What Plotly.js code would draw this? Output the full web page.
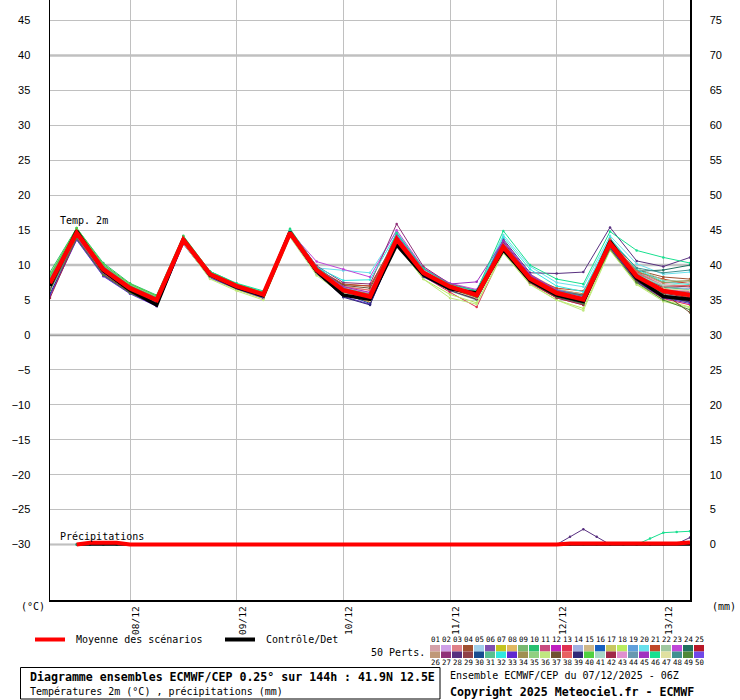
<!DOCTYPE html>
<html><head><meta charset="utf-8">
<script src="https://cdn.plot.ly/plotly-3.0.1.min.js"></script>
<style>html,body{margin:0;padding:0;background:#fff}#chart{width:740px;height:700px}</style>
</head><body><div id="chart"></div>
<script>
// ---- DATA ----
const hours = [0,6,12,18,24,30,36,42,48,54,60,66,72,78,84,90,96,102,108,114,120,126,132,138,144];
const dayTickHours = [18,42,66,90,114,138];
const dayTickLabels = ['08/12','09/12','10/12','11/12','12/12','13/12'];
const tempMean    = [7.4,14.6,9.4,6.7,5.0,13.6,8.7,7.0,5.8,14.6,9.3,6.4,5.5,13.7,8.9,6.9,5.7,12.6,8.1,6.0,5.1,13.1,8.4,6.3,5.7];
const tempControl = [7.0,14.9,9.2,6.4,4.3,13.7,8.6,6.8,5.6,14.7,9.1,5.7,5.1,12.9,8.6,6.6,6.0,12.2,7.8,5.7,4.8,13.4,8.1,5.5,5.1];
const tempMembers = [
 [7.8,14.4,9.6,6.9,5.2,13.5,8.8,7.1,6.0,14.5,9.6,7.0,6.4,14.0,9.2,7.0,5.9,12.8,8.3,6.2,5.4,13.4,8.9,7.2,6.8],
 [6.9,14.7,9.2,6.5,4.8,13.8,8.6,6.8,5.6,14.8,9.1,6.2,5.2,13.9,8.7,6.7,5.4,12.4,7.9,5.7,4.7,12.8,8.1,5.9,5.0],
 [8.1,14.9,9.8,7.0,5.3,13.4,8.9,7.2,5.9,14.4,9.4,6.6,5.8,13.5,9.0,7.1,6.1,13.0,8.6,6.5,5.6,13.6,9.0,7.4,7.6],
 [7.2,14.3,9.3,6.6,4.9,13.9,8.7,7.0,5.7,14.7,9.5,7.3,7.0,13.8,9.1,6.9,5.8,12.7,8.4,6.4,5.9,13.0,9.3,8.3,8.0],
 [6.4,13.9,8.8,6.2,4.5,13.3,8.4,6.7,5.5,14.3,9.0,6.0,5.0,14.2,9.3,7.2,6.2,12.3,7.8,5.5,4.4,12.6,7.9,5.6,4.9],
 [7.6,14.6,9.5,6.8,5.1,13.7,8.8,7.1,5.8,14.6,9.2,6.3,5.3,13.6,8.8,6.8,5.6,12.9,8.2,6.1,5.2,13.3,8.6,6.4,5.9],
 [8.4,15.1,9.9,7.1,5.4,13.2,8.3,6.5,5.2,14.1,8.9,5.9,4.7,13.3,8.5,6.4,5.2,12.1,7.6,5.6,4.9,13.8,8.8,6.7,6.1],
 [7.0,14.5,9.4,6.7,5.0,13.6,8.9,7.3,6.1,14.9,9.7,6.8,5.9,14.4,9.4,7.3,6.3,13.2,8.7,6.6,5.8,12.7,7.7,5.4,4.6],
 [8.6,15.2,10.0,7.2,5.5,13.9,9.0,7.2,5.9,14.5,9.1,6.1,5.0,13.2,8.4,6.3,5.0,12.2,7.7,5.5,4.6,13.5,8.7,6.5,6.3],
 [9.0,15.3,10.3,7.4,5.7,14.2,9.1,7.3,6.0,15.2,9.8,6.9,5.7,14.1,9.2,7.0,5.8,12.6,8.0,5.9,5.0,12.9,8.2,6.0,5.4],
 [7.3,14.2,9.1,6.4,4.7,13.5,8.5,6.9,5.7,14.6,9.3,6.5,5.6,13.7,8.9,6.9,5.7,12.5,8.1,6.0,5.3,13.2,8.5,6.6,6.2],
 [5.8,13.8,8.6,6.0,4.2,13.4,8.6,6.9,5.6,14.7,9.4,6.7,6.0,14.6,9.5,7.1,5.9,12.8,8.2,6.1,5.0,12.9,8.0,6.1,5.6],
 [7.1,14.6,9.4,6.6,4.9,13.6,8.5,6.8,5.4,14.2,8.8,5.7,4.8,13.4,8.4,6.1,4.0,12.0,7.4,5.3,4.3,12.4,7.5,5.2,4.3],
 [7.7,14.8,9.7,6.9,5.2,13.8,8.8,7.0,5.8,14.8,9.5,6.6,5.4,13.9,9.0,7.0,5.9,12.9,8.5,6.3,5.5,13.6,9.1,7.0,6.6],
 [6.6,14.0,8.9,6.3,4.6,13.2,8.3,6.7,5.5,14.4,9.1,6.4,5.6,13.6,8.7,6.8,5.8,12.5,8.0,6.1,5.4,13.0,8.3,6.3,5.9],
 [7.5,14.5,9.3,6.7,5.0,13.7,8.7,7.0,5.8,14.6,9.2,6.2,5.1,13.5,8.7,6.7,5.5,12.3,7.8,5.8,4.9,12.7,8.0,5.8,5.1],
 [8.0,14.9,9.7,6.9,5.2,13.5,8.6,6.9,5.7,14.5,9.3,6.5,5.5,13.8,9.0,7.0,5.7,12.7,8.2,6.0,5.0,13.3,8.4,6.2,5.5],
 [6.8,14.1,8.9,6.3,4.6,13.1,8.1,6.5,5.3,14.2,8.7,5.8,4.9,13.0,8.0,5.8,4.6,11.8,7.3,5.0,3.8,12.2,7.3,5.0,4.0],
 [7.4,14.7,9.5,6.8,5.0,13.8,8.9,7.2,6.0,14.9,9.6,6.9,5.8,14.0,9.1,7.1,6.0,13.1,8.6,6.5,5.7,13.5,8.8,6.8,6.5],
 [7.9,14.8,9.6,6.9,5.3,13.6,8.9,7.3,6.2,14.9,9.6,9.2,8.9,14.8,9.5,7.2,6.4,14.3,9.8,7.5,6.9,14.2,10.2,8.7,9.0],
 [7.2,14.4,9.2,6.6,4.9,13.6,8.7,7.0,5.8,14.5,9.4,7.2,7.0,13.9,9.0,6.9,5.8,12.6,8.3,6.7,6.3,13.0,9.0,8.0,7.3],
 [6.7,14.2,9.0,6.4,4.7,13.4,8.5,6.8,5.6,14.3,9.0,6.3,5.4,13.4,8.6,6.6,5.5,12.4,7.9,5.9,5.2,13.7,9.6,7.8,7.7],
 [7.6,14.6,9.4,6.7,5.0,13.7,8.8,7.1,5.9,14.8,10.5,9.4,8.3,15.0,9.6,7.4,6.5,13.4,8.6,6.4,5.6,13.4,8.6,6.4,5.8],
 [7.3,14.5,9.3,6.6,4.9,13.5,8.6,6.9,5.7,14.5,9.2,6.4,5.4,13.6,8.8,6.8,5.6,12.5,8.0,6.0,5.2,13.2,9.1,9.3,10.0],
 [8.2,15.0,9.8,7.0,5.3,13.9,8.9,7.2,5.9,14.7,9.3,6.3,5.2,13.5,8.6,6.7,5.4,12.5,8.0,5.8,4.8,12.8,8.2,6.0,5.3],
 [6.5,14.0,8.8,6.2,4.5,13.3,8.4,6.8,5.6,14.4,9.0,6.1,5.1,13.3,8.5,6.6,5.6,12.2,7.7,5.6,4.7,12.9,8.2,6.1,5.6],
 [7.0,14.3,9.2,6.5,4.8,13.7,8.9,7.2,6.0,14.9,9.9,7.5,7.3,15.9,9.8,7.3,6.3,13.3,8.5,6.3,5.5,13.3,8.5,6.5,6.0],
 [7.4,14.6,9.4,6.7,5.0,13.5,8.6,6.9,5.7,14.4,9.1,6.3,5.3,13.6,8.9,7.0,6.2,13.7,8.9,8.8,9.0,15.4,10.6,9.8,11.1],
 [7.8,14.7,9.5,6.8,5.1,13.8,8.8,7.0,5.8,14.6,9.3,6.5,5.6,13.9,9.0,6.9,5.7,12.8,8.2,6.1,5.3,13.1,8.4,6.8,7.0],
 [5.9,13.7,8.5,6.0,4.2,13.2,8.4,6.7,5.4,14.4,9.2,6.0,4.5,13.1,8.4,6.5,5.3,12.4,7.9,5.8,4.9,12.6,7.8,5.5,4.7],
 [8.3,15.1,9.9,7.1,5.4,13.8,8.9,7.1,5.9,14.7,9.4,6.4,5.4,13.7,8.9,6.8,5.6,12.9,8.4,6.2,5.3,13.6,8.9,6.9,6.4],
 [7.5,14.6,9.5,6.9,5.2,13.9,9.0,7.3,6.1,15.0,9.7,7.8,7.9,14.5,9.2,7.1,6.1,14.0,9.4,7.0,6.2,13.9,9.4,7.6,7.2],
 [5.6,13.6,8.4,5.9,4.1,13.0,8.2,6.6,5.3,14.1,8.8,5.5,4.4,13.0,8.3,6.4,5.2,12.3,7.8,5.7,4.6,12.5,7.6,5.3,4.5],
 [7.9,14.8,9.6,6.8,5.1,13.6,8.6,6.9,5.7,14.6,9.2,6.6,5.9,13.8,8.8,6.7,5.5,12.6,8.1,6.2,5.6,13.4,9.2,7.5,7.8],
 [8.7,15.2,10.1,7.2,5.5,14.0,9.0,7.2,5.9,14.8,9.3,6.2,5.0,13.6,8.7,6.6,5.3,12.2,7.6,5.4,4.5,12.9,8.1,5.8,5.0],
 [6.8,14.2,9.0,6.4,4.7,13.1,8.0,6.3,5.0,14.0,8.5,5.7,4.9,12.9,8.0,5.3,4.4,11.7,7.2,5.0,3.5,12.1,7.2,4.8,3.9],
 [7.1,14.4,9.1,6.5,4.8,13.8,8.8,7.1,5.9,14.7,9.5,7.1,6.7,13.8,9.0,6.9,5.8,12.6,8.3,6.3,5.7,12.8,8.2,6.0,3.2],
 [7.7,14.7,9.6,6.9,5.2,13.6,8.7,7.0,5.8,14.5,9.3,6.9,6.4,14.0,9.2,7.1,6.0,12.9,8.4,6.3,5.4,13.7,9.0,7.0,7.1],
 [6.9,14.3,9.1,6.4,4.6,13.3,8.4,6.8,5.6,14.3,9.0,5.4,4.3,13.1,8.4,6.4,5.1,12.2,7.6,5.4,4.5,12.6,7.7,5.4,4.8],
 [8.5,15.3,10.1,7.3,5.6,14.1,9.1,7.3,6.1,15.0,9.5,6.6,5.5,13.9,8.9,6.9,5.7,12.6,8.0,5.9,5.0,13.1,8.3,6.2,5.6],
 [7.2,14.5,9.3,6.6,4.9,13.6,8.7,7.0,5.7,14.5,9.2,6.4,5.6,13.6,8.8,6.8,5.7,12.7,8.2,6.1,5.5,13.2,8.6,7.1,7.4],
 [5.3,13.9,8.7,6.1,4.4,13.4,8.5,6.9,5.7,14.5,9.2,6.3,5.3,13.5,8.6,6.5,5.2,12.1,7.5,5.3,4.3,12.7,7.8,5.6,4.9],
 [7.4,14.5,9.2,6.6,4.9,13.7,8.8,7.1,5.9,14.6,9.4,6.8,6.0,14.2,9.3,7.2,6.1,12.7,8.2,5.9,5.0,13.1,8.4,6.5,6.3],
 [8.1,14.9,9.8,7.0,5.3,13.5,8.6,6.9,5.7,14.5,9.1,6.1,5.0,13.4,8.6,6.6,5.4,12.4,7.9,5.7,4.8,13.0,8.4,6.5,6.0],
 [6.6,14.0,8.9,6.3,4.5,13.5,8.7,7.0,5.8,14.6,9.7,6.9,6.1,14.3,9.5,7.3,7.6,13.5,8.7,6.4,5.5,13.3,8.3,6.2,5.7],
 [7.6,14.8,9.7,7.0,5.3,13.9,9.1,7.4,6.3,15.1,9.7,6.7,5.8,14.6,9.5,7.2,6.3,14.9,10.0,8.0,7.3,14.8,12.1,11.1,10.3],
 [7.0,14.4,9.2,6.5,4.8,13.4,8.4,6.7,5.5,14.3,8.9,6.0,4.9,13.2,8.5,6.5,5.3,12.3,7.8,5.7,4.9,12.9,8.4,6.6,6.4],
 [7.9,14.7,9.5,6.8,5.1,13.7,8.7,7.0,5.8,14.6,9.3,6.5,5.5,13.7,8.9,6.9,5.8,12.8,8.3,6.3,5.6,13.5,9.6,8.9,9.3],
 [6.4,13.8,8.6,6.0,4.3,13.3,8.4,6.8,5.6,14.4,9.1,6.2,5.2,13.4,8.6,6.6,5.4,12.1,7.6,5.5,4.5,12.3,7.5,5.0,3.6],
 [7.3,14.6,9.4,6.7,5.0,13.6,8.7,7.0,5.8,14.7,9.4,6.6,5.7,14.0,9.1,7.0,5.9,12.9,8.4,6.2,5.3,13.2,8.5,6.3,5.7]
];
const memberColors = ['#d4a0a8','#d0a0e8','#e08088','#a05030','#a0d0ec','#8050b0','#c4c420','#e0b860','#78b870','#28c070',
 '#c84c80','#c020c0','#e03050','#a0b0e0','#d0b888','#1860c0','#c8c860','#b8ec60','#60a0dc','#68e0ec',
 '#c04828','#a0c8a0','#c048d8','#207060','#b81828','#c09878','#903078','#583080','#904048','#184c90',
 '#58c090','#30e8e0','#6028d0','#a09050','#90d080','#c0e880','#705030','#e86060','#302878','#50d040',
 '#a8d8c8','#a02848','#e090d0','#6898b0','#a030c0','#18e090','#e0e0a0','#409090','#508838','#7048e8'];
const memberLabels = ['01','02','03','04','05','06','07','08','09','10','11','12','13','14','15','16','17','18','19','20','21','22','23','24','25',
 '26','27','28','29','30','31','32','33','34','35','36','37','38','39','40','41','42','43','44','45','46','47','48','49','50'];
// precipitation (mm), 3-hourly from +6h
const precipHours = [6,9,12,15,18,21,24,27,30,33,36,39,42,45,48,51,54,57,60,63,66,69,72,75,78,81,84,87,90,93,96,99,102,105,108,111,114,117,120,123,126,129,132,135,138,141,144];
const precipMean    = [0,0.25,0.25,0.25,0,0,0,0,0,0,0,0,0,0,0,0,0,0,0,0,0,0,0,0,0,0,0,0,0,0,0,0,0,0,0,0,0,0.15,0.15,0.15,0.15,0.15,0.15,0.15,0.15,0.15,0.3];
const precipControl = [0,0,0,0,0,0,0,0,0,0,0,0,0,0,0,0,0,0,0,0,0,0,0,0,0,0,0,0,0,0,0,0,0,0,0,0,0,0,0,0,0,0,0,0,0,0,0];
const precipMember28 = [0,0,0,0,0,0,0,0,0,0,0,0,0,0,0,0,0,0,0,0,0,0,0,0,0,0,0,0,0,0,0,0,0,0,0,0,0,1.1,2.2,1.1,0,0,0,0,0,0.1,1.0];
const precipMember46 = [0,0,0,0,0,0,0,0,0,0,0,0,0,0,0,0,0,0,0,0,0,0,0,0,0,0,0,0,0,0,0,0,0,0,0,0,0,0,0,0,0,0,0,0.85,1.7,1.8,1.9];
const leftTicks  = [-30,-25,-20,-15,-10,-5,0,5,10,15,20,25,30,35,40,45];
const rightTicks = [0,5,10,15,20,25,30,35,40,45,50,55,60,65,70,75];

// ---- LAYOUT HELPERS ----
const MONO = 'DejaVu Sans Mono';
const PL = 50, PW = 640, PH = 600;
const px = v => (v - PL) / PW;
const py = v => (PH - v) / PH;
function ann(text, x, y, size, extra) {
  return Object.assign({xref:'paper', yref:'paper', x:px(x), y:py(y), xanchor:'left', yanchor:'middle',
    showarrow:false, text:text, font:{family:MONO, size:size||10, color:'#000'}, borderpad:0}, extra||{});
}

const traces = [];
tempMembers.forEach((m, k) => {
  traces.push({x:hours, y:m, type:'scatter', mode:'lines+markers', xaxis:'x', yaxis:'y',
    line:{color:memberColors[k], width:1}, marker:{color:memberColors[k], size:2.5}, hoverinfo:'skip'});
});
traces.push({x:precipHours, y:precipMember28, type:'scatter', mode:'lines+markers', yaxis:'y2',
  line:{color:memberColors[27], width:1}, marker:{color:memberColors[27], size:2.5}, hoverinfo:'skip'});
traces.push({x:precipHours, y:precipMember46, type:'scatter', mode:'lines+markers', yaxis:'y2',
  line:{color:memberColors[45], width:1}, marker:{color:memberColors[45], size:2.5}, hoverinfo:'skip'});
traces.push({x:hours, y:tempControl, type:'scatter', mode:'lines', yaxis:'y', line:{color:'#000', width:3.5}, hoverinfo:'skip'});
traces.push({x:precipHours, y:precipControl, type:'scatter', mode:'lines', yaxis:'y2', line:{color:'#000', width:2.5}, hoverinfo:'skip'});
traces.push({x:hours, y:tempMean, type:'scatter', mode:'lines', yaxis:'y', line:{color:'#ff0000', width:4.5}, hoverinfo:'skip'});
traces.push({x:precipHours, y:precipMean, type:'scatter', mode:'lines', yaxis:'y2', line:{color:'#ff0000', width:4}, hoverinfo:'skip'});

const shapes = [
  {type:'line', xref:'paper', x0:0, x1:1, yref:'y', y0:10, y1:10, line:{color:'#c0c0c0', width:2.5}, layer:'below'},
  {type:'line', xref:'paper', x0:0, x1:1, yref:'y', y0:40, y1:40, line:{color:'#c0c0c0', width:2.5}, layer:'below'},
  {type:'line', xref:'paper', x0:0, x1:1, yref:'y', y0:0, y1:0, line:{color:'#a0a0a0', width:2.5}, layer:'below'},
  {type:'line', xref:'paper', x0:0, x1:1, yref:'y', y0:-30, y1:-30, line:{color:'#b8b8b8', width:2}, layer:'below'},
  // legend swatches
  {type:'line', xref:'paper', yref:'paper', x0:px(35), x1:px(65), y0:py(639.5), y1:py(639.5), line:{color:'#ff0000', width:4}},
  {type:'line', xref:'paper', yref:'paper', x0:px(225), x1:px(255), y0:py(639.5), y1:py(639.5), line:{color:'#000', width:4}},
  // info box
  {type:'rect', xref:'paper', yref:'paper', x0:px(20.5), x1:px(440), y0:py(667.5), y1:py(699), line:{color:'#000', width:1}, fillcolor:'rgba(0,0,0,0)'}
];
const annotations = [
  ann('Temp. 2m', 59, 221, 10),
  ann('Précipitations', 59, 536, 10),
  ann('(°C)', 20, 606, 10),
  ann('(mm)', 711, 606, 10),
  ann('Moyenne des scénarios', 75, 639, 10),
  ann('Contrôle/Det', 265, 639, 10),
  ann('50 Perts.', 370, 652, 10),
  ann('<b>Diagramme ensembles ECMWF/CEP 0.25° sur 144h : 41.9N 12.5E</b>', 29, 677, 11.6),
  ann('Températures 2m (°C) , précipitations (mm)', 29, 691, 10),
  ann('Ensemble ECMWF/CEP du 07/12/2025 - 06Z', 449, 675, 10),
  ann('<b>Copyright 2025 Meteociel.fr - ECMWF</b>', 449, 692, 11.6)
];
memberColors.forEach((c, k) => {
  const col = k % 25, row = Math.floor(k / 25);
  const x0 = 430 + 11 * col;
  const y0 = row === 0 ? 645 : 651.5;
  shapes.push({type:'rect', xref:'paper', yref:'paper', x0:px(x0), x1:px(x0 + 10), y0:py(y0), y1:py(y0 + 6.5),
    line:{width:0}, fillcolor:c});
  annotations.push(Object.assign(ann(memberLabels[k], x0 + 5, row === 0 ? 639.5 : 662.5, 7.4), {xanchor:'center'}));
});

const layout = {
  width:740, height:700,
  margin:{l:50, r:50, t:0, b:100, pad:0},
  paper_bgcolor:'#fff', plot_bgcolor:'#fff',
  showlegend:false,
  font:{family:MONO, size:10, color:'#000'},
  xaxis:{range:[0,144], tickmode:'array', tickvals:dayTickHours, ticktext:dayTickLabels, tickangle:-90,
    showgrid:true, gridcolor:'#c0c0c0', gridwidth:1, zeroline:false, showline:true, linecolor:'#000', linewidth:1.5,
    ticks:'', ticklabelstandoff:1, ticklabelshift:6, tickfont:{family:MONO, size:9.5, color:'#000'}, fixedrange:true},
  yaxis:{range:[-37.94, 47.95], tickmode:'array', tickvals:leftTicks, showgrid:true, gridcolor:'#c0c0c0', gridwidth:1,
    zeroline:false, showline:true, linecolor:'#000', linewidth:1.5, ticks:'outside', ticklen:16, tickcolor:'rgba(0,0,0,0)',
    tickfont:{family:'Liberation Sans', size:11, color:'#000'}},
  yaxis2:{range:[-7.94, 77.95], overlaying:'y', side:'right', tickmode:'array', tickvals:rightTicks, showgrid:false,
    zeroline:false, showline:true, linecolor:'#000', linewidth:1.5, ticks:'outside', ticklen:16, tickcolor:'rgba(0,0,0,0)',
    tickfont:{family:'Liberation Sans', size:11, color:'#000'}},
  shapes:shapes,
  annotations:annotations
};
Plotly.newPlot('chart', traces, layout, {staticPlot:true, displayModeBar:false});
</script>
</body></html>
